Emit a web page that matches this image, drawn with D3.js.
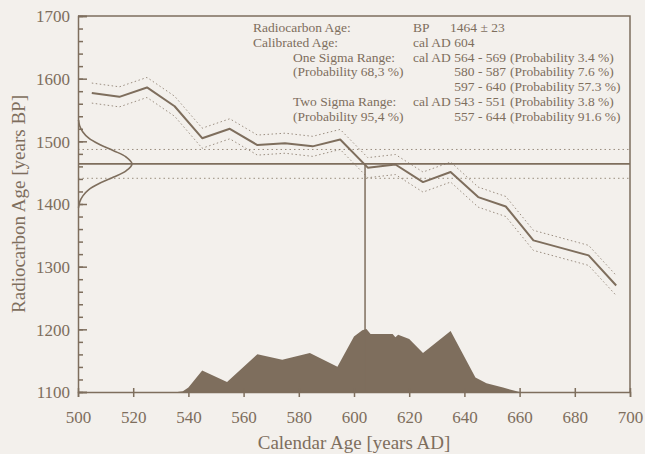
<!DOCTYPE html>
<html>
<head>
<meta charset="utf-8">
<script src="https://cdn.jsdelivr.net/npm/d3@7"></script>
<style>
  html, body { margin: 0; padding: 0; background: #f3f0ec; }
  svg { display: block; }
  text { font-family: "Liberation Serif", "Times New Roman", serif; fill: #7e6e5d; }
</style>
</head>
<body>
<svg id="chart" width="645" height="454"></svg>
<script>
// ---- Data ----
// Calibration curve (calendar year AD -> radiocarbon age BP) and its 1-sigma error
const calYears = [505, 515, 525, 535, 545, 555, 565, 575, 585, 595, 605, 615, 625, 635, 645, 655, 665, 675, 685, 695];
const calBP    = [1577, 1571, 1586, 1556, 1505, 1520, 1494, 1497, 1492, 1503, 1458, 1463, 1435, 1451, 1411, 1396, 1342, 1330, 1318, 1270];
const calErr   = [16, 16, 16, 16, 16, 16, 16, 16, 16, 16, 16, 16, 16, 16, 16, 16, 16, 16, 16, 16];

// Measured radiocarbon age
const measuredBP = 1464;
const measuredErr = 23;
const calibratedAD = 604;

// Measured-age distribution drawn on the y axis (BP -> relative density)
const gaussBP  = [1534, 1525, 1515, 1505, 1495, 1485, 1475, 1464, 1453, 1443, 1433, 1423, 1413, 1403, 1394];
const gaussVal = [0.01, 0.03, 0.09, 0.20, 0.40, 0.66, 0.89, 1.00, 0.89, 0.66, 0.40, 0.20, 0.09, 0.03, 0.01];

// Calibrated probability distribution (year AD -> relative probability)
const probYears = [500, 536, 538, 540, 545, 554, 565, 574, 584, 594, 600, 603, 604.5, 606, 614, 615, 616, 620, 625, 635, 644, 648, 654, 660, 700];
const probVals  = [0, 0, 1, 7, 34, 16, 60, 51, 62, 40, 88, 98, 100, 92, 92, 87, 91, 84, 62, 97, 23, 14, 7, 0, 0];

// Axis ticks
const xTicks = [500, 520, 540, 560, 580, 600, 620, 640, 660, 680, 700];
const yTicks = [1100, 1200, 1300, 1400, 1500, 1600, 1700];
const yMinorTicks = d3.range(1100, 1701, 20);

// Result text block
const infoLines = [
  { col: 0, row: 0, text: "Radiocarbon Age:" },
  { col: 0, row: 1, text: "Calibrated Age:" },
  { col: 1, row: 2, text: "One Sigma Range:" },
  { col: 1, row: 3, text: "(Probability 68,3 %)" },
  { col: 1, row: 5, text: "Two Sigma Range:" },
  { col: 1, row: 6, text: "(Probability 95,4 %)" },
  { col: 2, row: 0, text: "BP" },
  { col: 3, row: 0, text: "1464 \u00b1 23" },
  { col: 2, row: 1, text: "cal AD 604" },
  { col: 2, row: 2, text: "cal AD" },
  { col: 2, row: 5, text: "cal AD" }
];
const rangeLines = [
  { row: 2, range: "564 - 569", prob: "(Probability 3.4 %)" },
  { row: 3, range: "580 - 587", prob: "(Probability 7.6 %)" },
  { row: 4, range: "597 - 640", prob: "(Probability 57.3 %)" },
  { row: 5, range: "543 - 551", prob: "(Probability 3.8 %)" },
  { row: 6, range: "557 - 644", prob: "(Probability 91.6 %)" }
];

// ---- Drawing ----
(function () {
const brown = "#7e6e5d";
const svg = d3.select("#chart");
const mL = 78, mR = 630, mT = 16, mB = 392;

const x = d3.scaleLinear().domain([500, 700]).range([mL, mR]);
const y = d3.scaleLinear().domain([1100, 1700]).range([mB, mT]);
const yProb = d3.scaleLinear().domain([0, 100]).range([mB, mB - 63]);
const gW = d3.scaleLinear().domain([0, 1]).range([mL, mL + 54]);

// Probability area
const area = d3.area()
  .x((d, i) => x(probYears[i]))
  .y0(mB)
  .y1(d => yProb(d))
  .curve(d3.curveLinear);
svg.append("path").datum(probVals).attr("d", area).attr("fill", brown);

// Horizontal measurement lines
svg.append("line")
  .attr("x1", mL).attr("x2", mR)
  .attr("y1", y(measuredBP)).attr("y2", y(measuredBP))
  .attr("stroke", brown).attr("stroke-width", 1.8);
[measuredBP + measuredErr, measuredBP - measuredErr].forEach(v => {
  svg.append("line")
    .attr("x1", mL).attr("x2", mR)
    .attr("y1", y(v)).attr("y2", y(v))
    .attr("stroke", brown).attr("stroke-width", 1)
    .attr("stroke-dasharray", "1.5,3").attr("opacity", 0.75);
});

// Vertical line at calibrated age
svg.append("line")
  .attr("x1", x(calibratedAD)).attr("x2", x(calibratedAD))
  .attr("y1", y(measuredBP)).attr("y2", mB)
  .attr("stroke", brown).attr("stroke-width", 1.5);

// Calibration curve sigma bands
const bandLine = sign => d3.line()
  .x((d, i) => x(calYears[i]))
  .y((d, i) => y(d + sign * calErr[i]));
[1, -1].forEach(s => {
  svg.append("path").datum(calBP).attr("d", bandLine(s))
    .attr("fill", "none").attr("stroke", brown).attr("stroke-width", 1)
    .attr("stroke-dasharray", "1.5,2.5").attr("opacity", 0.75);
});

// Calibration curve
const calLine = d3.line().x((d, i) => x(calYears[i])).y(d => y(d));
svg.append("path").datum(calBP).attr("d", calLine)
  .attr("fill", "none").attr("stroke", brown).attr("stroke-width", 2)
  .attr("stroke-linejoin", "round");

// Gaussian on the y axis
const gLine = d3.line()
  .x(d => gW(d))
  .y((d, i) => y(gaussBP[i]))
  .curve(d3.curveCatmullRom);
svg.append("path").datum(gaussVal).attr("d", gLine)
  .attr("fill", "none").attr("stroke", brown).attr("stroke-width", 1.6);

// Frame (top and right)
svg.append("path")
  .attr("d", `M${mL},${mT}H${mR}V${mB}`)
  .attr("fill", "none").attr("stroke", brown).attr("stroke-width", 1.5);

// Y axis: minor ticks
const yMinor = svg.append("g").attr("transform", `translate(${mL},0)`)
  .call(d3.axisLeft(y).tickValues(yMinorTicks).tickSize(-5).tickFormat(""));
yMinor.select(".domain").remove();
yMinor.selectAll("line").attr("stroke", brown).attr("stroke-width", 1.5);

// Y axis: major ticks with labels
const yAx = svg.append("g").attr("transform", `translate(${mL},0)`)
  .call(d3.axisLeft(y).tickValues(yTicks).tickSize(-9).tickPadding(8).tickFormat(d3.format("d")));
yAx.select(".domain").attr("stroke", brown).attr("stroke-width", 1.5);
yAx.selectAll("line").attr("stroke", brown).attr("stroke-width", 1.5);
yAx.selectAll("text").attr("font-size", 17).attr("fill", brown)
  .attr("font-family", "Liberation Serif").attr("dy", "0.35em");

// X axis
const xAx = svg.append("g").attr("transform", `translate(0,${mB})`)
  .call(d3.axisBottom(x).tickValues(xTicks).tickSize(5).tickPadding(14).tickFormat(d3.format("d")));
xAx.select(".domain").attr("stroke", brown).attr("stroke-width", 1.5);
xAx.selectAll(".tick line").attr("y1", -4).attr("stroke", brown).attr("stroke-width", 1.5);
xAx.selectAll("text").attr("font-size", 17).attr("fill", brown)
  .attr("font-family", "Liberation Serif");

// Axis titles
svg.append("text")
  .attr("x", (mL + mR) / 2).attr("y", 449)
  .attr("text-anchor", "middle").attr("font-size", 19)
  .text("Calendar Age [years AD]");
svg.append("text")
  .attr("transform", `translate(25,${(mT + mB) / 2}) rotate(-90)`)
  .attr("text-anchor", "middle").attr("font-size", 19)
  .text("Radiocarbon Age [years BP]");

// Info text block
const colX = [253, 293, 413, 450];
const rowY = r => 32 + r * 14.75;
svg.append("g").selectAll("text").data(infoLines).join("text")
  .attr("x", d => colX[d.col]).attr("y", d => rowY(d.row))
  .attr("font-size", 13.5).text(d => d.text);
svg.append("g").selectAll("text").data(rangeLines).join("text")
  .attr("x", 506).attr("y", d => rowY(d.row))
  .attr("text-anchor", "end").attr("font-size", 13.5).text(d => d.range);
svg.append("g").selectAll("text").data(rangeLines).join("text")
  .attr("x", 510).attr("y", d => rowY(d.row))
  .attr("font-size", 13.5).text(d => d.prob);
})();
</script>
</body>
</html>
